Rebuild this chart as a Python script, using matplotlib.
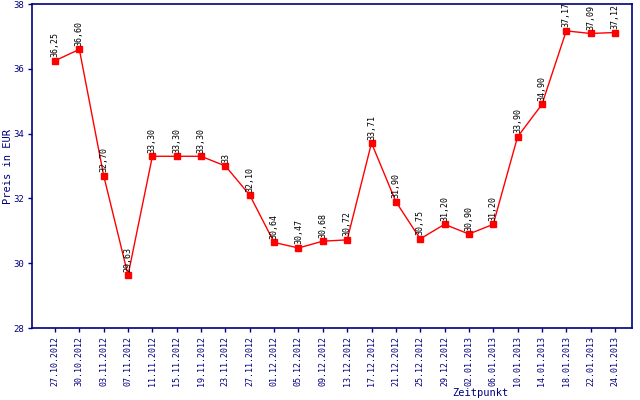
import matplotlib
matplotlib.use("Agg")
import matplotlib.pyplot as plt

dates = ["27.10.2012", "30.10.2012", "03.11.2012", "07.11.2012", "11.11.2012",
         "15.11.2012", "19.11.2012", "23.11.2012", "27.11.2012", "01.12.2012",
         "05.12.2012", "09.12.2012", "13.12.2012", "17.12.2012", "21.12.2012",
         "25.12.2012", "29.12.2012", "02.01.2013", "06.01.2013", "10.01.2013",
         "14.01.2013", "18.01.2013", "22.01.2013", "24.01.2013"]
prices = [36.25, 36.60, 32.70, 29.63, 33.30, 33.30, 33.30, 33.00, 32.10, 30.64,
          30.47, 30.68, 30.72, 33.71, 31.90, 30.75, 31.20, 30.90, 31.20, 33.90,
          34.90, 37.17, 37.09, 37.12]
point_labels = ["36,25", "36,60", "32,70", "29,63", "33,30", "33,30", "33,30", "33",
                "32,10", "30,64", "30,47", "30,68", "30,72", "33,71", "31,90", "30,75",
                "31,20", "30,90", "31,20", "33,90", "34,90", "37,17", "37,09", "37,12"]
yticks = [28, 30, 32, 34, 36, 38]

navy = "#000080"
mono = "DejaVu Sans Mono"

fig = plt.figure(figsize=(6.4, 4.0), dpi=100)
ax = fig.add_axes([32/640, 1 - 328/400, 600/640, 324/400])

x = list(range(len(prices)))
ax.plot(x, prices, color="#ff0000", lw=1, marker="s", markersize=5,
        markerfacecolor="#ff0000", markeredgecolor="#ff0000", clip_on=False)

for xi, yi, lab in zip(x, prices, point_labels):
    ax.annotate(lab, (xi, yi), xytext=(0, 2.5), textcoords="offset points",
                rotation=90, ha="center", va="bottom", fontsize=6,
                family=mono, color="black")

ax.set_xlim(-0.945, 23.7)
ax.set_ylim(28, 38)
ax.set_xticks(x)
ax.set_xticklabels(dates, rotation=90, fontsize=6, family=mono, color=navy)
ax.set_yticks(yticks)
ax.set_yticklabels([str(v) for v in yticks], fontsize=6.5, family=mono, color=navy)
ax.tick_params(axis="both", colors=navy, length=3, width=1, direction="out", pad=3)
for s in ax.spines.values():
    s.set_color(navy)
    s.set_linewidth(1.2)

fig.text(8/640, 1 - 166/400, "Preis in EUR", fontsize=7.5, family=mono, color=navy,
         ha="center", va="center", rotation=90)
fig.text(480/640, 1 - 393/400, "Zeitpunkt", fontsize=7.5, family=mono, color=navy,
         ha="center", va="center")

fig.savefig("out.png", dpi=100, facecolor="white")
